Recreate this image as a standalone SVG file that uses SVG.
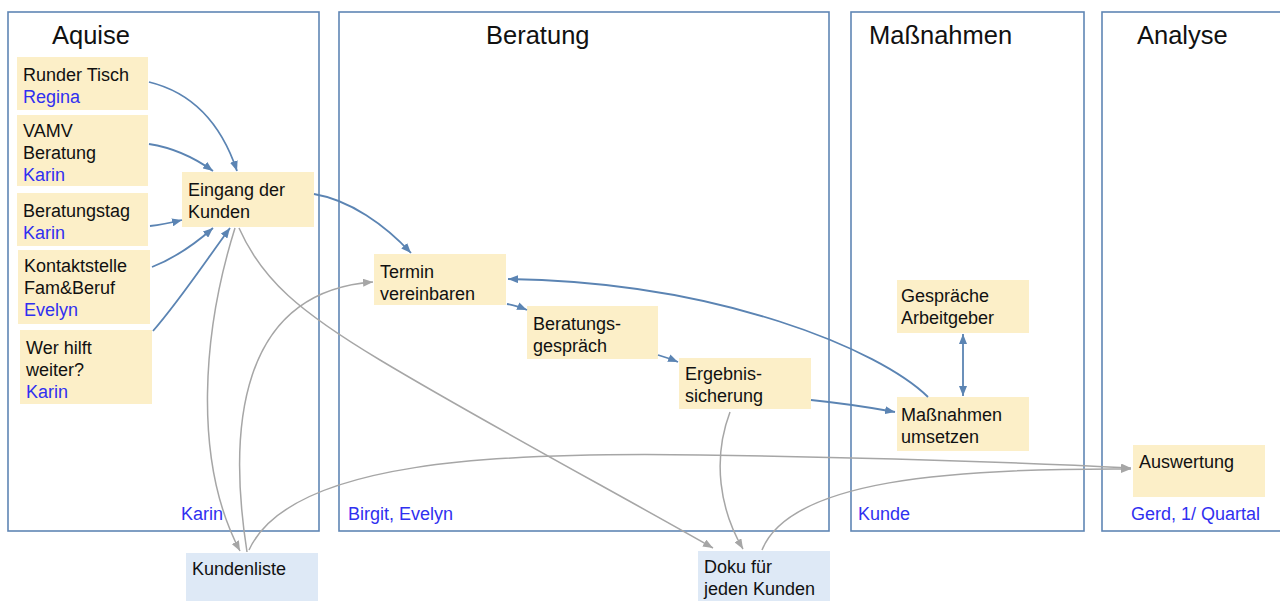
<svg xmlns="http://www.w3.org/2000/svg" width="1280" height="601" viewBox="0 0 1280 601">
<style>
.panel{fill:none;stroke:#5F86B5;stroke-width:1.6}
.title{font-family:"Liberation Sans",Arial,sans-serif;font-size:25.5px;fill:#111}
.n{fill:#FCEFC8}
.b{fill:#DEE9F6}
.t{font-family:"Liberation Sans",Arial,sans-serif;font-size:18px;fill:#111}
.p{font-family:"Liberation Sans",Arial,sans-serif;font-size:18px;fill:#3030F0}
.cb{fill:none;stroke:#5B84B3;stroke-width:1.8}
.cg{fill:none;stroke:#A6A6A6;stroke-width:1.5}
</style>
<defs>
<marker id="ab" viewBox="0 0 10 8" refX="10" refY="4" markerWidth="10" markerHeight="8" markerUnits="userSpaceOnUse" orient="auto-start-reverse"><path d="M0,0L10,4L0,8z" fill="#5B84B3"/></marker>
<marker id="ag" viewBox="0 0 10 8" refX="10" refY="4" markerWidth="10" markerHeight="8" markerUnits="userSpaceOnUse" orient="auto"><path d="M0,0L10,4L0,8z" fill="#A6A6A6"/></marker>
</defs>

<g id="panel-aquise"><rect class="panel" x="8" y="12" width="311" height="519"/><text class="title" x="52" y="44">Aquise</text><text class="p" x="181" y="520">Karin</text></g>
<g id="panel-beratung"><rect class="panel" x="339" y="12" width="490" height="519"/><text class="title" x="486" y="44">Beratung</text><text class="p" x="348" y="520">Birgit, Evelyn</text></g>
<g id="panel-massnahmen"><rect class="panel" x="851" y="12" width="233" height="519"/><text class="title" x="869" y="44">Maßnahmen</text><text class="p" x="858" y="520">Kunde</text></g>
<g id="panel-analyse"><rect class="panel" x="1102" y="12" width="190" height="519"/><text class="title" x="1137" y="44">Analyse</text><text class="p" x="1131" y="520">Gerd, 1/ Quartal</text></g>

<g id="n-runder"><rect class="n" x="17" y="57" width="131" height="53"/><text class="t" x="23" y="81">Runder Tisch</text><text class="p" x="23" y="103">Regina</text></g>
<g id="n-vamv"><rect class="n" x="17" y="115" width="131" height="71"/><text class="t" x="23" y="137">VAMV</text><text class="t" x="23" y="159">Beratung</text><text class="p" x="23" y="181">Karin</text></g>
<g id="n-beratungstag"><rect class="n" x="17" y="193" width="131" height="53"/><text class="t" x="23" y="217">Beratungstag</text><text class="p" x="23" y="239">Karin</text></g>
<g id="n-kontakt"><rect class="n" x="18" y="250" width="132" height="74"/><text class="t" x="24" y="272">Kontaktstelle</text><text class="t" x="24" y="294">Fam&amp;Beruf</text><text class="p" x="24" y="316">Evelyn</text></g>
<g id="n-wer"><rect class="n" x="20" y="330" width="132" height="74"/><text class="t" x="26" y="354">Wer hilft</text><text class="t" x="26" y="376">weiter?</text><text class="p" x="26" y="398">Karin</text></g>
<g id="n-eingang"><rect class="n" x="182" y="172" width="132" height="55"/><text class="t" x="188" y="196">Eingang der</text><text class="t" x="188" y="218">Kunden</text></g>
<g id="n-termin"><rect class="n" x="374" y="254" width="132" height="51"/><text class="t" x="380" y="278">Termin</text><text class="t" x="380" y="300">vereinbaren</text></g>
<g id="n-gespraech"><rect class="n" x="527" y="306" width="131" height="53"/><text class="t" x="533" y="330">Beratungs-</text><text class="t" x="533" y="352">gespräch</text></g>
<g id="n-ergebnis"><rect class="n" x="679" y="358" width="132" height="51"/><text class="t" x="685" y="380">Ergebnis-</text><text class="t" x="685" y="402">sicherung</text></g>
<g id="n-arbeitgeber"><rect class="n" x="897" y="280" width="132" height="53"/><text class="t" x="901" y="302">Gespräche</text><text class="t" x="901" y="324">Arbeitgeber</text></g>
<g id="n-umsetzen"><rect class="n" x="897" y="397" width="132" height="54"/><text class="t" x="901" y="421">Maßnahmen</text><text class="t" x="901" y="443">umsetzen</text></g>
<g id="n-auswertung"><rect class="n" x="1133" y="445" width="132" height="52"/><text class="t" x="1139" y="468">Auswertung</text></g>
<g id="n-kundenliste"><rect class="b" x="186" y="553" width="132" height="50"/><text class="t" x="192" y="575">Kundenliste</text></g>
<g id="n-doku"><rect class="b" x="698" y="551" width="132" height="52"/><text class="t" x="704" y="573">Doku für</text><text class="t" x="704" y="595">jeden Kunden</text></g>

<g id="connectors">
<path class="cb" d="M149,82 C190,92 220,120 237,171" marker-end="url(#ab)"/>
<path class="cb" d="M149,144 C175,148 195,158 213,171" marker-end="url(#ab)"/>
<path class="cb" d="M150,226 C160,225 170,223 182,220" marker-end="url(#ab)"/>
<path class="cb" d="M152,267 C175,258 195,244 213,228" marker-end="url(#ab)"/>
<path class="cb" d="M153,331 C180,300 205,262 230,228" marker-end="url(#ab)"/>
<path class="cb" d="M314,194 C350,200 385,225 411,253" marker-end="url(#ab)"/>
<path class="cb" d="M507,304 C514,305 520,307 527,310" marker-end="url(#ab)"/>
<path class="cb" d="M658,355 C665,357 671,359 678,362" marker-end="url(#ab)"/>
<path class="cb" d="M811,400 C840,403 868,407 895,412" marker-end="url(#ab)"/>
<path class="cb" d="M928,397 C880,350 720,282 508,279" marker-end="url(#ab)"/>
<path class="cb" d="M963,334 L963,396" marker-start="url(#ab)" marker-end="url(#ab)"/>

<path class="cg" d="M235,228 C203,330 192,460 240,551" marker-end="url(#ag)"/>
<path class="cg" d="M247,552 C228,430 238,292 373,282" marker-end="url(#ag)"/>
<path class="cg" d="M249,550 C290,460 500,452 700,455 C900,458 1010,462 1131,468" marker-end="url(#ag)"/>
<path class="cg" d="M239,228 C262,280 300,312 380,360 C480,420 620,495 713,548" marker-end="url(#ag)"/>
<path class="cg" d="M730,412 C712,460 720,510 743,549" marker-end="url(#ag)"/>
<path class="cg" d="M762,550 C790,480 950,468 1131,469" marker-end="url(#ag)"/>
</g>
</svg>
